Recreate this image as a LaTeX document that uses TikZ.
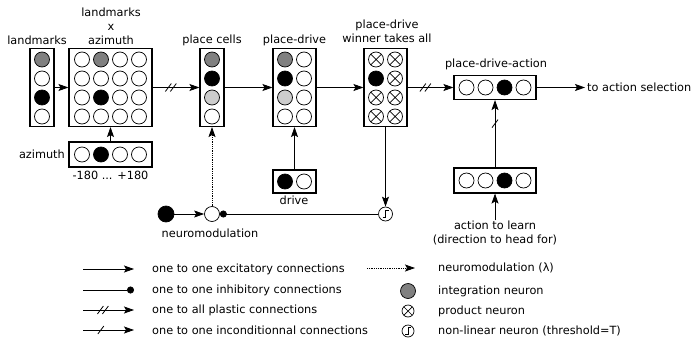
\documentclass[tikz,border=0pt]{standalone}
\usepackage{fontspec}
\setmainfont{DejaVu Sans}
\usetikzlibrary{arrows.meta,decorations.markings}
\begin{document}
\begin{tikzpicture}[
        x=1pt, y=-1pt,
        every node/.style = {font=\fontsize{11.3}{14}\selectfont},
        box/.style = {draw, line width=1.1pt, inner sep=0pt},
        neuron/.style = {circle, draw, line width=0.7pt, fill=white, inner sep=0pt, minimum size=15pt},
        on/.style = {neuron, fill=black},
        intg/.style = {neuron, fill=gray},
        faint/.style = {neuron, fill=gray!40},
        prod/.style = {neuron, path picture={
            \draw[line width=0.7pt] (path picture bounding box.north west) -- (path picture bounding box.south east)
                (path picture bounding box.north east) -- (path picture bounding box.south west);}},
        thresh/.style = {neuron, minimum size=14pt, path picture={
            \draw[line width=0.7pt] ([shift={(-3pt,-3.5pt)}]path picture bounding box.center)
                -- ++(3pt,0pt) -- ++(0pt,7pt) -- ++(3pt,0pt);}},
        lbl/.style = {align=center, inner sep=0pt},
        conn/.style = {line width=0.8pt},
        exc/.style = {conn, -{Stealth[length=10pt,width=7pt,inset=2pt]}},
        inh/.style = {conn, -{Circle[length=7pt]}},
        modul/.style = {exc, densely dotted},
        plastic/.style = {exc, postaction={decorate}, decoration={markings,
            mark=at position 0.4 with {\draw[-,conn] (-6pt,-4pt) -- (0pt,4pt) (-1pt,-4pt) -- (5pt,4pt);}}},
        uncond/.style = {exc, postaction={decorate}, decoration={markings,
            mark=at position 0.35 with {\draw[-,conn] (-3pt,-4pt) -- (3pt,4pt);}}},
        uncondv/.style = {exc, postaction={decorate}, decoration={markings,
            mark=at position 0.65 with {\draw[-,conn] (-4pt,3pt) -- (4pt,-3pt);}}}
    ]
    \useasboundingbox (0,0) rectangle (692,345);

    % landmarks
    \node[box, minimum width=24pt, minimum height=78pt] (lm) at (42,87.5) {};
    \foreach \s [count=\i] in {intg,neuron,on,neuron}
        \node[\s] (lm\i) at (42,{40.5+19*\i}) {};
    \node[lbl] (tlm) at (37,40) {landmarks};

    % landmarks x azimuth
    \node[box, minimum width=83pt, minimum height=78pt] (lxa) at (110.5,87.5) {};
    \foreach \r/\row in {1/{neuron,intg,neuron,neuron},2/{neuron,neuron,neuron,neuron},
                         3/{neuron,on,neuron,neuron},4/{neuron,neuron,neuron,neuron}}
        \foreach \s [count=\c] in \row
            \node[\s] (lxa\r\c) at ({63+19*\c},{40.5+19*\r}) {};
    \node[lbl] (tlxa) at (111,26) {landmarks\\x\\azimuth};

    % azimuth
    \node[box, minimum width=83pt, minimum height=25pt] (az) at (110.5,154.5) {};
    \foreach \s [count=\c] in {neuron,on,neuron,neuron}
        \node[\s] (az\c) at ({63+19*\c},154.5) {};
    \node[lbl, anchor=east] (taz) at (65,154.5) {azimuth};
    \node[lbl] (tdeg) at (110.5,175) {-180 ... +180};

    % place cells
    \node[box, minimum width=24pt, minimum height=78pt] (pc) at (212,87.5) {};
    \foreach \s [count=\i] in {intg,on,faint,neuron}
        \node[\s] (pc\i) at (212,{40.5+19*\i}) {};
    \node[lbl] (tpc) at (212,40) {place cells};

    % place-drive
    \node[box, minimum width=43pt, minimum height=78pt] (pd) at (294.5,87.5) {};
    \foreach \s [count=\i] in {intg,on,faint,neuron} {
        \node[\s] (pda\i) at (285,{40.5+19*\i}) {};
        \node[neuron] (pdb\i) at (304,{40.5+19*\i}) {};
    }
    \node[lbl] (tpd) at (294.5,40) {place-drive};

    % winner takes all
    \node[box, minimum width=43pt, minimum height=78pt] (wta) at (385.5,87.5) {};
    \foreach \s [count=\i] in {prod,on,prod,prod} {
        \node[\s] (wtaa\i) at (376,{40.5+19*\i}) {};
        \node[prod] (wtab\i) at (395,{40.5+19*\i}) {};
    }
    \node[lbl] (twta) at (387,31) {place-drive\\winner takes all};

    % place-drive-action
    \node[box, minimum width=82pt, minimum height=24pt] (pda) at (495,87.5) {};
    \foreach \s [count=\c] in {neuron,neuron,on,neuron}
        \node[\s] (pdac\c) at ({447.5+19*\c},87.5) {};
    \node[lbl] (tpda) at (496,64) {place-drive-action};
    \node[anchor=west, inner sep=2pt] (tas) at (585,87.5) {to action selection};

    % action to learn
    \node[box, minimum width=82pt, minimum height=25pt] (act) at (495,180.5) {};
    \foreach \s [count=\c] in {neuron,neuron,on,neuron}
        \node[\s] (actc\c) at ({447.5+19*\c},180.5) {};
    \node[lbl] (tatl) at (495,232.5) {action to learn\\(direction to head for)};

    % drive
    \node[box, minimum width=43pt, minimum height=23pt] (drv) at (294.5,181.5) {};
    \node[on] (drv1) at (285,181.5) {};
    \node[neuron] (drv2) at (304,181.5) {};
    \node[lbl] (tdrv) at (294,200) {drive};

    % neuromodulation
    \node[on, minimum size=16pt] (nmsrc) at (166,214) {};
    \node[neuron] (nm) at (212,214) {};
    \node[thresh] (thr) at (385.5,214) {};
    \node[lbl] (tnm) at (210,233) {neuromodulation};

    % connections
    \draw[exc] (lm) -- (lxa);
    \draw[exc] (az) -- (lxa);
    \draw[plastic] (lxa) -- (pc);
    \draw[exc] (pc) -- (pd);
    \draw[exc] (pd) -- (wta);
    \draw[plastic] (wta) -- (pda);
    \draw[exc] (pda.east) -- (tas.west);
    \draw[exc] (drv) -- (pd);
    \draw[uncondv] (act) -- (pda);
    \draw[exc] (tatl) -- (act);
    \draw[exc] (nmsrc) -- (nm);
    \draw[modul] (nm) -- (pc);
    \draw[exc] (wta) -- (thr);
    \draw[inh] (thr) -- (nm);

    % legend
    \coordinate (ea) at (83,269);  \coordinate (eb) at (134,269);
    \coordinate (ia) at (83,290);  \coordinate (ib) at (134,290);
    \coordinate (pa) at (83,310);  \coordinate (pb) at (134,310);
    \coordinate (ua) at (83,330);  \coordinate (ub) at (134,330);
    \draw[exc] (ea) -- (eb);
    \draw[inh] (ia) -- (ib);
    \draw[plastic] (pa) -- (pb);
    \draw[uncond] (ua) -- (ub);
    \node[anchor=west, inner sep=0pt] (kexc) at (152,269) {one to one excitatory connections};
    \node[anchor=west, inner sep=0pt] (kinh) at (152,290) {one to one inhibitory connections};
    \node[anchor=west, inner sep=0pt] (kpl) at (152,310) {one to all plastic connections};
    \node[anchor=west, inner sep=0pt] (kun) at (152,330) {one to one inconditionnal connections};

    \coordinate (ma) at (367,268); \coordinate (mb) at (415,268);
    \draw[modul] (ma) -- (mb);
    \node[intg] (kint) at (408,291) {};
    \node[prod, minimum size=12pt] (kprod) at (408,311) {};
    \node[thresh, minimum size=12pt] (kthr) at (408,331) {};
    \node[anchor=west, inner sep=0pt] (kmod) at (438,268) {neuromodulation (λ)};
    \node[anchor=west, inner sep=0pt] (kintt) at (438,291) {integration neuron};
    \node[anchor=west, inner sep=0pt] (kprodt) at (438,311) {product neuron};
    \node[anchor=west, inner sep=0pt] (kthrt) at (438,331) {non-linear neuron (threshold=T)};
\end{tikzpicture}
\end{document}
